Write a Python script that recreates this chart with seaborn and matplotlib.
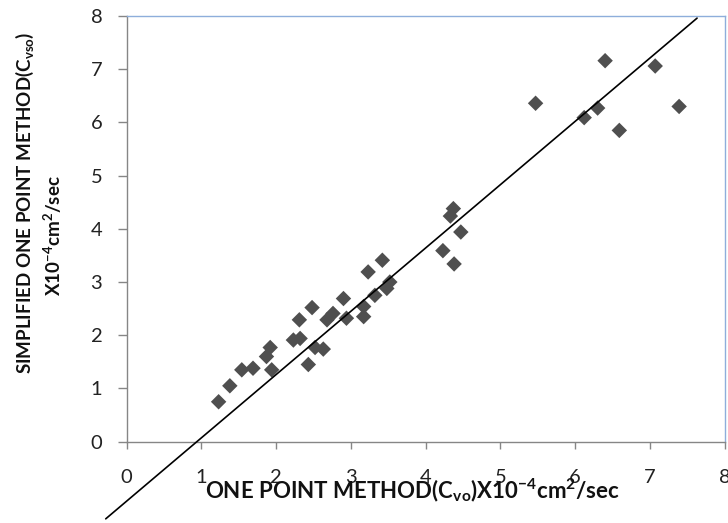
import matplotlib
matplotlib.use('Agg')
import numpy as np
import pandas as pd
import matplotlib.pyplot as plt
import seaborn as sns

# values
one_point = [1.23, 1.38, 1.54, 1.69, 1.87, 1.92, 1.94, 2.23, 2.32, 2.31, 2.43, 2.48, 2.52,
             2.63, 2.68, 2.76, 2.90, 2.94, 3.17, 3.17, 3.23, 3.32, 3.42, 3.48, 3.52,
             4.23, 4.33, 4.37, 4.38, 4.47, 5.47, 6.12, 6.30, 6.40, 6.59, 7.07, 7.39]
simplified = [0.75, 1.05, 1.35, 1.38, 1.60, 1.77, 1.35, 1.91, 1.94, 2.29, 1.45, 2.52, 1.77,
              1.74, 2.29, 2.41, 2.69, 2.32, 2.54, 2.35, 3.19, 2.75, 3.41, 2.88, 3.00,
              3.59, 4.24, 4.38, 3.34, 3.94, 6.36, 6.09, 6.27, 7.16, 5.85, 7.06, 6.30]

# straight line drawn over the points (runs past the axes at the bottom)
line_x = [-0.28, 7.63]
line_y = [-1.45, 7.96]

ticks = [0, 1, 2, 3, 4, 5, 6, 7, 8]

df = pd.DataFrame({'x': one_point, 'y': simplified})

sns.set_style('ticks')
plt.rcParams['font.family'] = ['Lato', 'DejaVu Sans']
plt.rcParams['mathtext.fontset'] = 'custom'
plt.rcParams['mathtext.rm'] = 'Lato:bold'
plt.rcParams['mathtext.it'] = 'Lato:bold'
plt.rcParams['mathtext.bf'] = 'Lato:bold'
plt.rcParams['mathtext.default'] = 'rm'

fig = plt.figure(figsize=(7.28, 5.23), dpi=100)
ax = fig.add_axes([0.174, 0.1555, 0.8215, 0.8139])

sns.scatterplot(data=df, x='x', y='y', marker='D', s=62, color='#4f4f4f',
                edgecolor='none', ax=ax, zorder=3)
ax.plot(line_x, line_y, color='black', lw=1.2, clip_on=False, zorder=4)

ax.set_xlim(0, 8)
ax.set_ylim(0, 8)
ax.set_xticks(ticks)
ax.set_yticks(ticks)
ax.tick_params(axis='x', length=5, width=1, color='#868686', pad=15,
               labelsize=14.5, labelcolor='#222222')
ax.tick_params(axis='y', length=6.5, width=1, color='#868686', pad=11,
               labelsize=14.5, labelcolor='#222222')

for side in ['left', 'bottom']:
    ax.spines[side].set_color('#868686')
for side in ['top', 'right']:
    ax.spines[side].set_visible(True)
    ax.spines[side].set_color('#8eaedb')
for sp in ax.spines.values():
    sp.set_linewidth(1)

ax.set_xlabel(r'ONE POINT METHOD(C$_{vo}$)X10$^{-4}$cm$^{2}$/sec',
              fontsize=16, fontweight='bold', color='#111111')
ax.xaxis.set_label_coords(0.478, -0.113)
ax.xaxis.label.set_va('center')
ax.set_ylabel('')

fig.text(0.034, 0.612, r'SIMPLIFIED ONE POINT METHOD(C$_{vso}$)', rotation=90,
         ha='center', va='center', fontsize=13.5, fontweight='bold', color='#111111')
fig.text(0.073, 0.549, r'X10$^{-4}$cm$^{2}$/sec', rotation=90,
         ha='center', va='center', fontsize=13.5, fontweight='bold', color='#111111')

fig.savefig('out.png', dpi=100)
